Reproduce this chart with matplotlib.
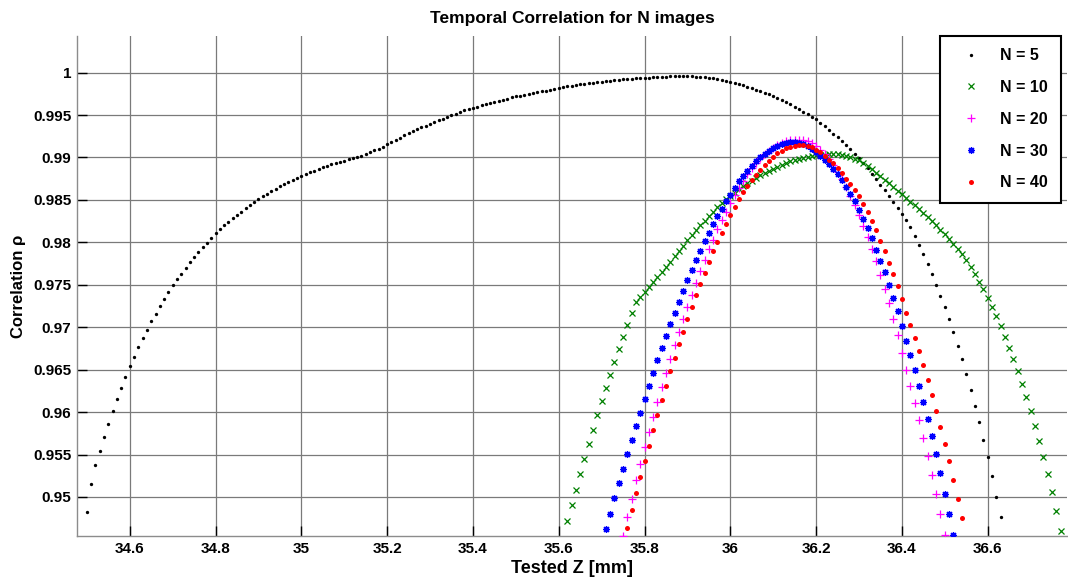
import numpy as np
import matplotlib
matplotlib.use("Agg")
import matplotlib.pyplot as plt
from matplotlib.ticker import FixedLocator, FuncFormatter

# ---------------- data (x sampled every 0.01 mm from each start) ----------------
step = 0.01

n5_start = 34.50
n5_y = [
    0.94820, 0.95157, 0.95377, 0.95546, 0.95711, 0.95864, 0.96010, 0.96151, 0.96285, 0.96414,
    0.96540, 0.96653, 0.96768, 0.96874, 0.96972, 0.97070, 0.97160, 0.97251, 0.97333, 0.97412,
    0.97495, 0.97565, 0.97631, 0.97702, 0.97769, 0.97828, 0.97891, 0.97946, 0.97997, 0.98056,
    0.98107, 0.98155, 0.98202, 0.98244, 0.98284, 0.98323, 0.98362, 0.98402, 0.98437, 0.98476,
    0.98508, 0.98543, 0.98574, 0.98606, 0.98633, 0.98661, 0.98688, 0.98712, 0.98736, 0.98759,
    0.98783, 0.98806, 0.98826, 0.98845, 0.98865, 0.98885, 0.98900, 0.98920, 0.98939, 0.98951,
    0.98963, 0.98979, 0.98991, 0.99006, 0.99018, 0.99040, 0.99062, 0.99085, 0.99105, 0.99128,
    0.99156, 0.99187, 0.99211, 0.99235, 0.99263, 0.99286, 0.99313, 0.99333, 0.99357, 0.99376,
    0.99399, 0.99419, 0.99439, 0.99458, 0.99478, 0.99498, 0.99517, 0.99537, 0.99557, 0.99572,
    0.99588, 0.99600, 0.99616, 0.99628, 0.99643, 0.99655, 0.99671, 0.99682, 0.99694, 0.99710,
    0.99722, 0.99730, 0.99741, 0.99750, 0.99761, 0.99770, 0.99781, 0.99789, 0.99800, 0.99808,
    0.99820, 0.99832, 0.99840, 0.99847, 0.99855, 0.99864, 0.99867, 0.99875, 0.99879, 0.99887,
    0.99891, 0.99899, 0.99903, 0.99911, 0.99918, 0.99922, 0.99926, 0.99930, 0.99934, 0.99936,
    0.99938, 0.99941, 0.99945, 0.99949, 0.99951, 0.99953, 0.99957, 0.99959, 0.99961, 0.99960,
    0.99958, 0.99956, 0.99953, 0.99949, 0.99945, 0.99941, 0.99934, 0.99926, 0.99914, 0.99903,
    0.99891, 0.99880, 0.99866, 0.99851, 0.99835, 0.99818, 0.99800, 0.99781, 0.99761, 0.99745,
    0.99729, 0.99705, 0.99680, 0.99654, 0.99627, 0.99599, 0.99570, 0.99540, 0.99511, 0.99481,
    0.99451, 0.99410, 0.99368, 0.99325, 0.99281, 0.99236, 0.99190, 0.99144, 0.99097, 0.99045,
    0.98991, 0.98933, 0.98873, 0.98809, 0.98744, 0.98681, 0.98618, 0.98550, 0.98480, 0.98408,
    0.98335, 0.98261, 0.98178, 0.98076, 0.97970, 0.97862, 0.97748, 0.97628, 0.97502, 0.97372,
    0.97239, 0.97094, 0.96941, 0.96783, 0.96623, 0.96450, 0.96261, 0.96076, 0.95880, 0.95675,
    0.95465, 0.95245, 0.95004, 0.94768,
]

n10_start = 35.62
n10_y = [
    0.94717, 0.94902, 0.95086, 0.95267, 0.95444, 0.95621, 0.95790, 0.95963, 0.96128, 0.96284,
    0.96441, 0.96594, 0.96744, 0.96889, 0.97031, 0.97170, 0.97298, 0.97360, 0.97419, 0.97475,
    0.97530, 0.97596, 0.97655, 0.97714, 0.97773, 0.97840, 0.97902, 0.97961, 0.98025, 0.98087,
    0.98146, 0.98202, 0.98256, 0.98311, 0.98362, 0.98414, 0.98461, 0.98508, 0.98547, 0.98586,
    0.98624, 0.98660, 0.98695, 0.98728, 0.98760, 0.98790, 0.98818, 0.98845, 0.98870, 0.98893,
    0.98915, 0.98935, 0.98953, 0.98969, 0.98984, 0.98997, 0.99008, 0.99017, 0.99024, 0.99030,
    0.99035, 0.99038, 0.99040, 0.99037, 0.99030, 0.99020, 0.99005, 0.98987, 0.98970, 0.98935,
    0.98898, 0.98859, 0.98818, 0.98777, 0.98736, 0.98694, 0.98652, 0.98610, 0.98567, 0.98524,
    0.98481, 0.98437, 0.98392, 0.98346, 0.98299, 0.98250, 0.98200, 0.98148, 0.98094, 0.98038,
    0.97980, 0.97922, 0.97860, 0.97790, 0.97714, 0.97628, 0.97537, 0.97448, 0.97349, 0.97239,
    0.97133, 0.97012, 0.96889, 0.96759, 0.96630, 0.96485, 0.96332, 0.96182, 0.96013, 0.95840,
    0.95660, 0.95468, 0.95268, 0.95059, 0.94839, 0.94603,
]

n20_start = 35.75
n20_y = [
    0.94535, 0.94764, 0.94980, 0.95197, 0.95390, 0.95583, 0.95760, 0.95941, 0.96114, 0.96291,
    0.96465, 0.96626, 0.96787, 0.96945, 0.97098, 0.97244, 0.97382, 0.97520, 0.97657, 0.97787,
    0.97917, 0.98031, 0.98154, 0.98260, 0.98358, 0.98460, 0.98555, 0.98645, 0.98728, 0.98805,
    0.98874, 0.98936, 0.98990, 0.99038, 0.99080, 0.99116, 0.99146, 0.99170, 0.99189, 0.99202,
    0.99209, 0.99210, 0.99204, 0.99190, 0.99168, 0.99136, 0.99094, 0.99042, 0.98980, 0.98910,
    0.98832, 0.98745, 0.98650, 0.98548, 0.98438, 0.98320, 0.98195, 0.98063, 0.97923, 0.97775,
    0.97618, 0.97453, 0.97284, 0.97092, 0.96904, 0.96700, 0.96492, 0.96304, 0.96108, 0.95912,
    0.95700, 0.95484, 0.95257, 0.95033, 0.94794, 0.94551,
]

n30_start = 35.71
n30_y = [
    0.94618, 0.94803, 0.94984, 0.95165, 0.95335, 0.95508, 0.95669, 0.95831, 0.95992, 0.96150,
    0.96307, 0.96465, 0.96610, 0.96756, 0.96898, 0.97035, 0.97172, 0.97300, 0.97425, 0.97551,
    0.97673, 0.97791, 0.97902, 0.98012, 0.98114, 0.98217, 0.98307, 0.98398, 0.98484, 0.98563,
    0.98642, 0.98717, 0.98780, 0.98843, 0.98898, 0.98953, 0.99000, 0.99043, 0.99079, 0.99110,
    0.99138, 0.99157, 0.99173, 0.99181, 0.99181, 0.99173, 0.99158, 0.99135, 0.99104, 0.99066,
    0.99022, 0.98973, 0.98920, 0.98865, 0.98805, 0.98730, 0.98655, 0.98575, 0.98484, 0.98385,
    0.98280, 0.98169, 0.98051, 0.97915, 0.97786, 0.97649, 0.97500, 0.97347, 0.97186, 0.97010,
    0.96841, 0.96673, 0.96492, 0.96312, 0.96120, 0.95924, 0.95716, 0.95504, 0.95284, 0.95037,
    0.94798, 0.94551,
]

n40_start = 35.76
n40_y = [
    0.94630, 0.94843, 0.95047, 0.95236, 0.95421, 0.95606, 0.95791, 0.95969, 0.96142, 0.96311,
    0.96480, 0.96638, 0.96803, 0.96949, 0.97094, 0.97244, 0.97380, 0.97513, 0.97642, 0.97770,
    0.97893, 0.98008, 0.98115, 0.98220, 0.98319, 0.98417, 0.98508, 0.98594, 0.98665, 0.98732,
    0.98795, 0.98858, 0.98912, 0.98962, 0.99008, 0.99047, 0.99079, 0.99106, 0.99126, 0.99140,
    0.99146, 0.99146, 0.99138, 0.99120, 0.99094, 0.99060, 0.99020, 0.98976, 0.98930, 0.98875,
    0.98815, 0.98750, 0.98688, 0.98620, 0.98547, 0.98449, 0.98358, 0.98248, 0.98142, 0.98015,
    0.97893, 0.97760, 0.97629, 0.97484, 0.97335, 0.97171, 0.97025, 0.96873, 0.96720, 0.96555,
    0.96382, 0.96206, 0.96018, 0.95822, 0.95622, 0.95418, 0.95202, 0.94978, 0.94751,
]

labels = ["N = 5", "N = 10", "N = 20", "N = 30", "N = 40"]
x_ticks = [34.6, 34.8, 35.0, 35.2, 35.4, 35.6, 35.8, 36.0, 36.2, 36.4, 36.6]
y_ticks = [0.95, 0.955, 0.96, 0.965, 0.97, 0.975, 0.98, 0.985, 0.99, 0.995, 1.0]


def grid_x(start, ys):
    return np.round(start + step * np.arange(len(ys)), 2)


# ---------------- figure ----------------
plt.rcParams['font.family'] = ['Liberation Sans', 'DejaVu Sans']
plt.rcParams['font.weight'] = 'bold'

fig = plt.figure(figsize=(10.68, 5.78), dpi=100)
ax = fig.add_axes([0.0721, 0.0727, 0.9270, 0.8651])

ax.plot(grid_x(n5_start, n5_y), n5_y, linestyle='none', marker='o', ms=2.4,
        mfc='black', mec='black', mew=0, label=labels[0], zorder=3)
ax.plot(grid_x(n10_start, n10_y), n10_y, linestyle='none', marker='x', ms=4.0,
        mec='#008000', mew=0.9, label=labels[1], zorder=3)
ax.plot(grid_x(n20_start, n20_y), n20_y, linestyle='none', marker='+', ms=5.5,
        mec='#ff00ff', mew=0.9, label=labels[2], zorder=3)
ax.plot(grid_x(n30_start, n30_y), n30_y, linestyle='none', marker=(8, 2, 0), ms=5.0,
        mec='#0000ff', mew=0.9, label=labels[3], zorder=3)
ax.plot(grid_x(n40_start, n40_y), n40_y, linestyle='none', marker='o', ms=3.6,
        mfc='#ff0000', mec='#ff0000', mew=0, label=labels[4], zorder=3)

ax.set_xlim(34.477, 36.785)
ax.set_ylim(0.94540, 1.00432)

ax.xaxis.set_major_locator(FixedLocator(x_ticks))
ax.yaxis.set_major_locator(FixedLocator(y_ticks))
fmt = FuncFormatter(lambda v, p: f"{v:g}")
ax.xaxis.set_major_formatter(fmt)
ax.yaxis.set_major_formatter(fmt)

ax.grid(True, color='#7a7a7a', linewidth=0.9, linestyle='-', zorder=0)
ax.set_axisbelow(True)
ax.tick_params(direction='in', length=7, width=1.0, color='black',
               labelsize=11, pad=4)
for lab in ax.get_xticklabels() + ax.get_yticklabels():
    lab.set_fontweight('bold')

for side in ['top', 'right']:
    ax.spines[side].set_visible(False)
for side in ['left', 'bottom']:
    ax.spines[side].set_color('#8c8c8c')
    ax.spines[side].set_linewidth(1.0)

ax.set_title("Temporal Correlation for N images", fontsize=12.5, fontweight='bold', pad=9)
ax.set_xlabel("Tested Z [mm]", fontsize=13, fontweight='bold', labelpad=3)
ax.set_ylabel("Correlation \u03c1", fontsize=12, fontweight='bold', labelpad=5)

leg = ax.legend(loc='upper left', bbox_to_anchor=(939.5 / 1068, 1 - 35.5 / 578),
                bbox_transform=fig.transFigure, fontsize=11.5, frameon=True,
                fancybox=False, framealpha=1, edgecolor='black', borderpad=0.8,
                handlelength=2.4, handletextpad=0.6, labelspacing=1.05,
                borderaxespad=0, markerscale=1.0)
leg.get_frame().set_linewidth(1.5)
for t in leg.get_texts():
    t.set_fontweight('bold')

fig.savefig("out.png", dpi=100)
